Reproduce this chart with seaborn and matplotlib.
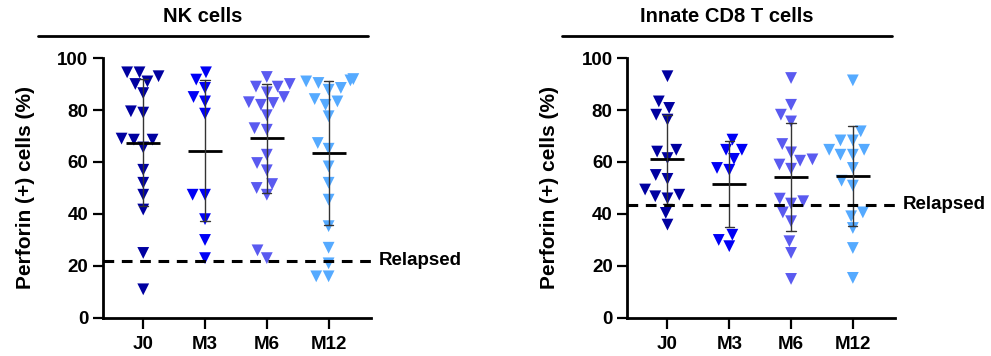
import numpy as np
import pandas as pd
import matplotlib
matplotlib.use("Agg")
import matplotlib.pyplot as plt
import seaborn as sns

sns.set_style("ticks", {"axes.edgecolor": "black", "text.color": "black",
                        "xtick.color": "black", "ytick.color": "black",
                        "axes.labelcolor": "black"})
plt.rcParams['font.family'] = ['Liberation Sans', 'DejaVu Sans']
plt.rcParams['font.weight'] = 'bold'

times = ["J0", "M3", "M6", "M12"]
colors = ["#0000A0", "#0000F5", "#5A5AF0", "#55AAFF"]

# NK cells, perforin+ (%)
nk_j0 = [94.5, 94.5, 93, 91, 90, 86.5, 79, 79.5, 68.6, 69, 68.6, 65.6, 57, 52, 47.4, 41.7, 25, 11]
nk_m3 = [94.5, 91.7, 88.5, 83.3, 85, 78.6, 47.4, 47.4, 38, 30, 23]
nk_m6 = [89, 90, 89, 92.7, 85, 86.8, 82, 83, 82.7, 78, 72.4, 73, 62.8, 59.6, 56.8, 51.5, 47.4, 50, 26, 23]
nk_m12 = [91.9, 91, 91.4, 90.4, 87.8, 88.5, 83.3, 84.2, 82, 77.6, 67.3, 65.1, 58.3, 52, 45.5, 35.3, 27, 21, 16, 16]
nk_relapsed = 22

# Innate CD8 T cells, perforin+ (%)
cd8_j0 = [93, 83.3, 80.8, 78.2, 76.3, 61.5, 64, 64.7, 55, 53.5, 49.4, 46.8, 46, 47.4, 40.4, 35.9]
cd8_m3 = [68.6, 64.7, 64.7, 61.2, 57.7, 57, 27.6, 32, 30]
cd8_m6 = [92.3, 82, 78.2, 75.6, 66.9, 63.7, 60.5, 61, 59, 57.4, 45.9, 44.9, 44, 40.6, 37.2, 29.5, 25, 15]
cd8_m12 = [91.4, 71.8, 68.3, 68.3, 64.7, 64.7, 62.8, 62.8, 57.7, 52.8, 50.9, 40.6, 39.1, 34.6, 26.9, 15.4]
cd8_relapsed = 43.6


def long_df(groups):
    rows = []
    for t, vals in zip(times, groups):
        for v in vals:
            rows.append((t, v))
    return pd.DataFrame(rows, columns=["time", "value"])


panels = [
    ("NK cells", long_df([nk_j0, nk_m3, nk_m6, nk_m12]), nk_relapsed, 0.104),
    ("Innate CD8 T cells", long_df([cd8_j0, cd8_m3, cd8_m6, cd8_m12]), cd8_relapsed, 0.633),
]

fig = plt.figure(figsize=(9.91, 3.56), dpi=100)

for title, df, relapsed, x0 in panels:
    ax = fig.add_axes([x0, 0.107, 0.270, 0.730])
    sns.swarmplot(data=df, x="time", y="value", hue="time", order=times,
                  hue_order=times, palette=colors, marker="v", size=8.5,
                  linewidth=0, legend=False, ax=ax, zorder=2)
    sns.pointplot(data=df, x="time", y="value", order=times, errorbar="sd",
                  capsize=0.15, color="black", marker="_", markersize=25,
                  markeredgewidth=2, linestyle="none",
                  err_kws={"linewidth": 1, "color": "#333333"}, ax=ax, zorder=3)
    ax.axhline(relapsed, color="black", linestyle=(0, (3.5, 2.5)), linewidth=2.2, zorder=4)
    ax.text(1.03, relapsed, "Relapsed", transform=ax.get_yaxis_transform(),
            ha="left", va="center", fontsize=13.5, fontweight="bold")

    ax.set_xlim(-0.65, 3.68)
    ax.set_ylim(0, 100)
    ax.set_yticks([0, 20, 40, 60, 80, 100])
    ax.set_xlabel("")
    ax.set_ylabel("Perforin (+) cells (%)", fontsize=15, fontweight="bold", labelpad=16)
    sns.despine(ax=ax)
    for s in ["left", "bottom"]:
        ax.spines[s].set_linewidth(2)
    ax.tick_params(axis="both", width=1.6, length=7, labelsize=13.5)
    ax.tick_params(axis="x", length=8, pad=5)
    for lab in ax.get_xticklabels() + ax.get_yticklabels():
        lab.set_fontweight("bold")

    # title with underline
    ax.plot([-0.245, 0.989], [1.085, 1.085], transform=ax.transAxes,
            color="black", linewidth=2, clip_on=False)
    ax.text(0.372, 1.16, title, transform=ax.transAxes, ha="center",
            va="center", fontsize=14.5, fontweight="bold")

fig.savefig("out.png", dpi=100)
